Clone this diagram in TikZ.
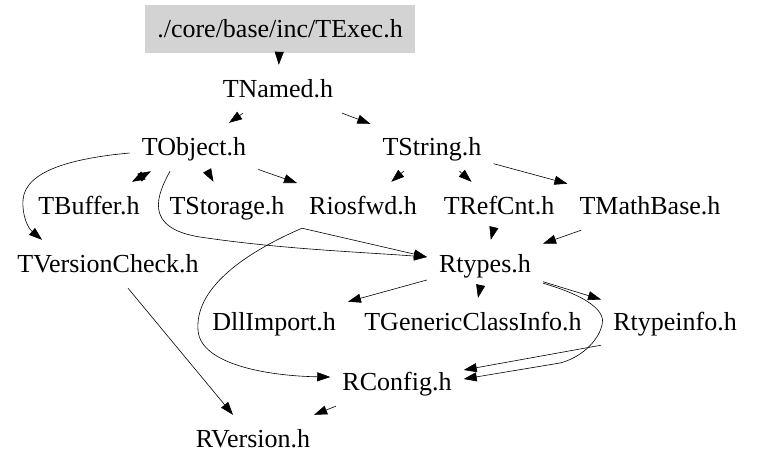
\documentclass[tikz,border=0pt]{standalone}
\usepackage{fontspec}
\setmainfont{Liberation Serif}
\usetikzlibrary{arrows.meta}
\definecolor{boxgray}{RGB}{211,211,211}
\tikzset{
  file/.style={inner xsep=12pt, inner ysep=0pt, minimum height=48pt,
    text height=20pt, text depth=2.8pt, font=\fontsize{26}{30}\selectfont},
  mainfile/.style={file, fill=boxgray},
  edge/.style={line width=0.6pt, -{Triangle[length=13pt,width=9pt]}},
  dedge/.style={line width=0.6pt, {Triangle[length=13pt,width=9pt]}-{Triangle[length=13pt,width=9pt]}}
}
\begin{document}
\begin{tikzpicture}[x=1pt,y=-1pt]
\useasboundingbox (0,0) rectangle (757,469);
\node[mainfile] (texec) at (280,29) {./core/base/inc/TExec.h};
\node[file] (tnamed) at (278,89) {TNamed.h};
\node[file] (tobject) at (194,147) {TObject.h};
\node[file] (tstring) at (432,147) {TString.h};
\node[file] (tbuffer) at (89,206) {TBuffer.h};
\node[file] (tstorage) at (227,206) {TStorage.h};
\node[file] (riosfwd) at (363,206) {Riosfwd.h};
\node[file] (trefcnt) at (499,206) {TRefCnt.h};
\node[file] (tmathbase) at (650,206) {TMathBase.h};
\node[file] (tversion) at (108,264) {TVersionCheck.h};
\node[file] (rtypes) at (485,264) {Rtypes.h};
\node[file] (dllimport) at (274,322) {DllImport.h};
\node[file] (tgeneric) at (473,322) {TGenericClassInfo.h};
\node[file] (rtypeinfo) at (675,322) {Rtypeinfo.h};
\node[file] (rconfig) at (397,382) {RConfig.h};
\node[file] (rversion) at (253,439) {RVersion.h};

\draw[edge] (texec) -- (tnamed);
\draw[edge] (tnamed) -- (tobject);
\draw[edge] (tnamed) -- (tstring);
\draw[dedge] (tobject) -- (tbuffer);
\draw[edge] (tobject) -- (tstorage);
\draw[edge] (tobject) -- (riosfwd);
\draw[edge] ([yshift=-6pt]tobject.west) .. controls (75,158) and (25,170) .. (23,200)
  .. controls (22,216) and (28,228) .. ([xshift=-66pt]tversion.north);
\draw[edge] ([xshift=-24pt]tobject.south) .. controls (157,195) and (143,228) .. (200,237)
  .. controls (280,249) and (360,252) .. ([yshift=7pt]rtypes.west);
\draw[edge] (tstring) -- (riosfwd);
\draw[edge] (tstring) -- (trefcnt);
\draw[edge] (tstring) -- (tmathbase);
\draw[edge] ([xshift=5pt,yshift=2pt]riosfwd.south west) -- ([yshift=7pt]rtypes.west);
\draw[edge] ([xshift=5pt,yshift=2pt]riosfwd.south west) .. controls (240,255) and (195,290) .. (198,330)
  .. controls (200,365) and (270,376) .. ([yshift=5pt]rconfig.west);
\draw[edge] (trefcnt) -- (rtypes);
\draw[edge] (tmathbase) -- (rtypes);
\draw[edge] (rtypes) -- (dllimport);
\draw[edge] (rtypes) -- (tgeneric);
\draw[edge] (rtypes) -- (rtypeinfo);
\draw[edge] ([yshift=5pt]rtypes.south east) .. controls (590,297) and (606,312) .. (602,325)
  .. controls (598,342) and (580,358) .. (560,363) -- ([yshift=3pt]rconfig.east);
\draw[edge] ([yshift=1pt]rtypeinfo.south west) -- ([yshift=12pt]rconfig.east);
\draw[edge] (tversion) -- (rversion);
\draw[edge] (rconfig) -- (rversion);
\end{tikzpicture}
\end{document}
